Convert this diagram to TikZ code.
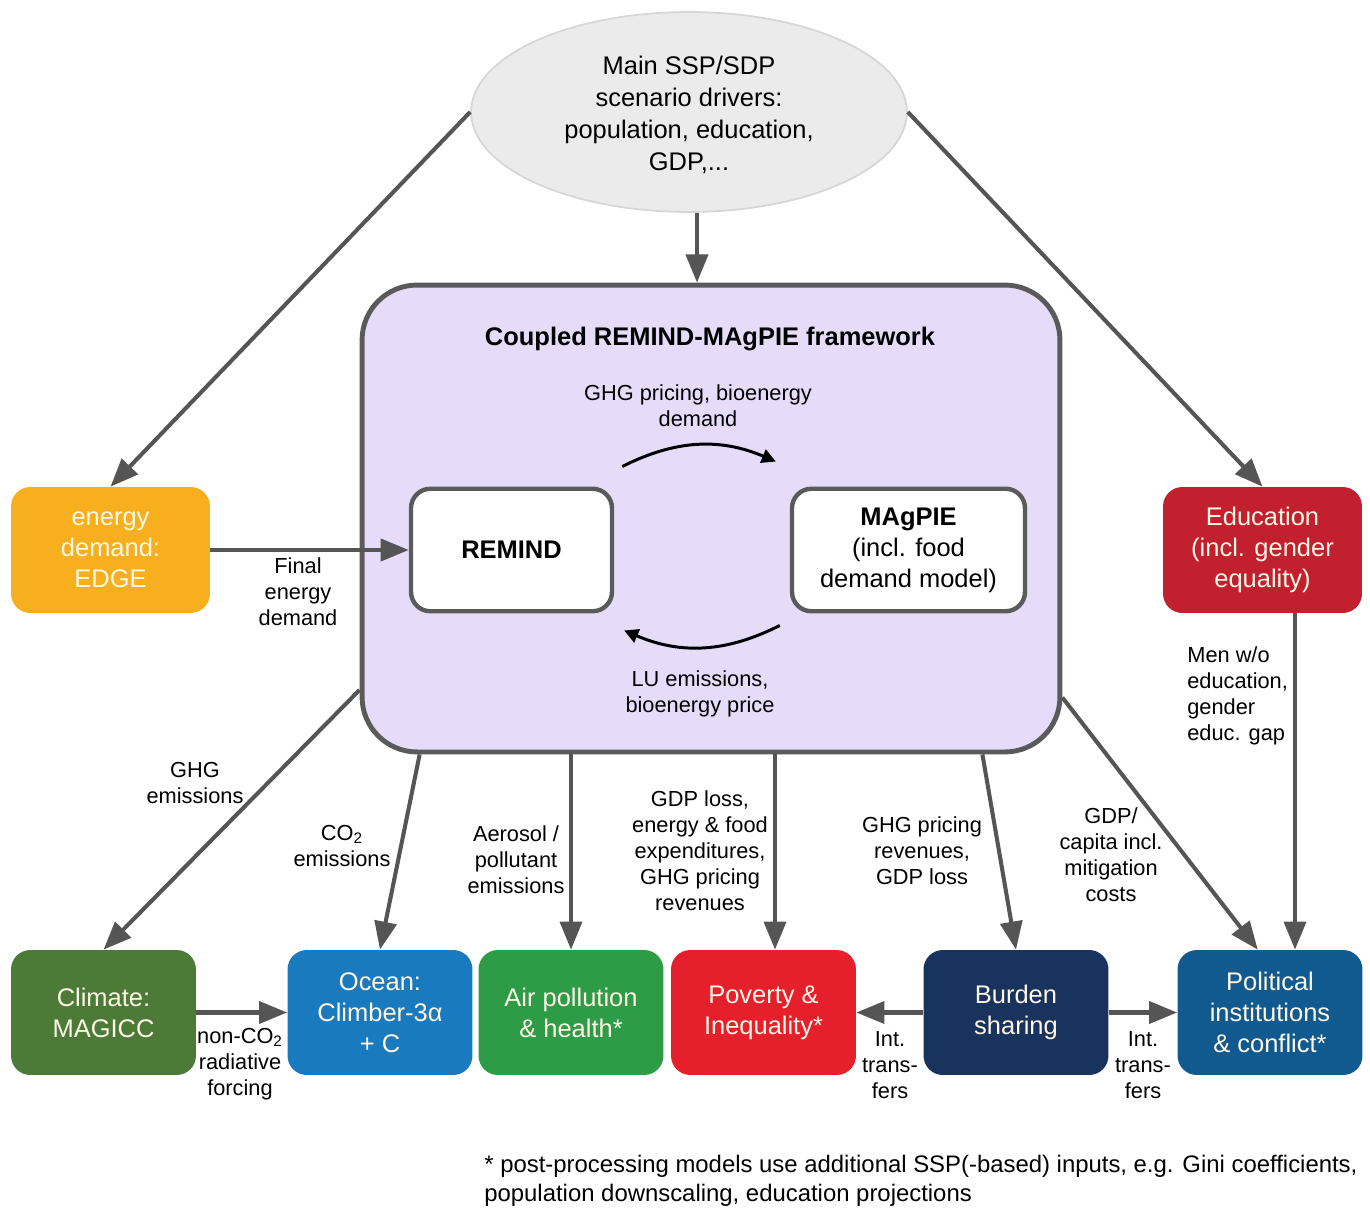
\documentclass[tikz,border=0pt]{standalone}
\usepackage{fontspec}
\setmainfont{Liberation Sans}
\usetikzlibrary{arrows.meta,shapes.geometric}

\definecolor{framefill}{HTML}{E6DCFA}
\definecolor{framedraw}{HTML}{5A5A5A}
\definecolor{arrowgray}{HTML}{555555}
\definecolor{drivergray}{HTML}{EBEBEB}
\definecolor{driverline}{HTML}{D6D6D6}
\definecolor{boxtext}{HTML}{FFF8E6}
\definecolor{edgeorange}{HTML}{F7AF1E}
\definecolor{educred}{HTML}{C3202F}
\definecolor{climategreen}{HTML}{4B7B36}
\definecolor{oceanblue}{HTML}{1A7ABF}
\definecolor{airgreen}{HTML}{2E9C47}
\definecolor{povertyred}{HTML}{E51F2B}
\definecolor{burdennavy}{HTML}{19335F}
\definecolor{politicalblue}{HTML}{115A8F}

\begin{document}
\begin{tikzpicture}[x=0.02cm, y=-0.02cm]
  \tikzset{
    model_box/.style={rectangle, rounded corners=11pt, minimum width=3.7cm, minimum height=2.5cm, align=center, text=boxtext, inner sep=2pt, font=\fontsize{14.5}{17.6}\selectfont},
    inner_box/.style={rectangle, rounded corners=11pt, draw=framedraw, line width=2.5pt, fill=white, minimum height=2.45cm, align=center, inner sep=2pt, font=\fontsize{14.5}{17.6}\selectfont},
    flow_arrow/.style={draw=arrowgray, line width=2.3pt, -{Triangle[length=16pt, width=12.5pt]}},
    loop_arrow/.style={draw=black, line width=1.7pt, -{Triangle[length=8pt, width=8pt]}},
    edge_label/.style={align=center, inner sep=0pt, font=\fontsize{12.4}{14.8}\selectfont}
  }

  % Marco de la figura
  \useasboundingbox (0,0) rectangle (1370,1210);

  % Elipse de escenarios
  \node[ellipse, fill=drivergray, draw=driverline, line width=1pt, minimum width=8.72cm, minimum height=4cm, align=center, font=\fontsize{14.5}{18.2}\selectfont] (drivers) at (689,112) {};
  \node[align=center, inner sep=0pt, font=\fontsize{14.5}{18.2}\selectfont] (drivers_text) at (689,115) {Main SSP/SDP\\scenario drivers:\\population, education,\\GDP,...};

  % Marco acoplado REMIND-MAgPIE
  \node[rectangle, rounded corners=1.1cm, fill=framefill, draw=framedraw, line width=2.8pt, minimum width=13.96cm, minimum height=9.34cm] (frame) at (711,518.5) {};
  \node[font=\bfseries\fontsize{14.5}{17.6}\selectfont] (frame_title) at (710,339) {Coupled REMIND-MAgPIE framework};
  \node[inner_box, minimum width=4.02cm] (remind) at (511.5,550) {\textbf{REMIND}};
  \node[inner_box, minimum width=4.66cm] (magpie) at (908.5,550) {\textbf{MAgPIE}\\(incl. food\\demand model)};

  % Modelos laterales
  \node[model_box, fill=edgeorange, minimum width=3.98cm, minimum height=2.52cm] (edge_model) at (110.5,550) {energy\\demand:\\EDGE};
  \node[model_box, fill=educred, minimum width=3.98cm, minimum height=2.52cm] (education) at (1262.5,550) {Education\\(incl. gender\\equality)};

  % Modelos de post-procesado (fila inferior)
  \node[model_box, fill=climategreen] (climate) at (103.5,1012.5) {Climate:\\MAGICC};
  \node[model_box, fill=oceanblue] (ocean) at (380,1012.5) {Ocean:\\Climber-3α\\+ C};
  \node[model_box, fill=airgreen] (air) at (571,1012.5) {Air pollution\\\& health*};
  \node[model_box, fill=povertyred] (poverty) at (763.5,1012.5) {Poverty \&\\Inequality*};
  \node[model_box, fill=burdennavy] (burden) at (1016,1012.5) {Burden\\sharing};
  \node[model_box, fill=politicalblue] (political) at (1270,1012.5) {Political\\institutions\\\& conflict*};

  % Flechas desde los escenarios
  \draw[flow_arrow] ([xshift=0.16cm]drivers.south) -- ([xshift=0.16cm]drivers.south |- frame.north);
  \draw[flow_arrow] (drivers.west) -- (edge_model.north);
  \draw[flow_arrow] (drivers.east) -- (education.north);
  \draw[flow_arrow] (edge_model.east) -- (remind.west);

  % Acoplamiento REMIND <-> MAgPIE
  \draw[loop_arrow] ([shift={(8,-20)}]remind.north east) to[bend left=25] ([shift={(-14,-25)}]magpie.north west);
  \draw[loop_arrow] ([shift={(-10,12)}]magpie.south west) to[bend left=25] ([shift={(10,17)}]remind.south east);

  % Flechas hacia la fila inferior
  \draw[flow_arrow] (frame.206) -- (climate.north);
  \draw[flow_arrow] (frame.-141.3) -- (ocean.north);
  \draw[flow_arrow] (air.north |- frame.south) -- (air.north);
  \draw[flow_arrow] ([xshift=0.23cm]poverty.north |- frame.south) -- ([xshift=0.23cm]poverty.north);
  \draw[flow_arrow] (frame.-41.8) -- (burden.north);
  \draw[flow_arrow] (frame.-27.5) -- (political.101);
  \draw[flow_arrow] ([xshift=0.65cm]education.south) -- ([xshift=0.65cm]education.south |- political.north);
  \draw[flow_arrow] (climate.east) -- (ocean.west);
  \draw[flow_arrow] (burden.west) -- (poverty.east);
  \draw[flow_arrow] (burden.east) -- (political.west);

  % Etiquetas de las flechas
  \node[edge_label] (final_lbl) at (298,592) {Final\\energy\\demand};
  \node[edge_label] (pricing_lbl) at (698,406) {GHG pricing, bioenergy\\demand};
  \node[edge_label] (lu_lbl) at (700,694) {LU emissions,\\bioenergy price};
  \node[edge_label] (ghg_lbl) at (195,783) {GHG\\emissions};
  \node[edge_label] (co2_lbl) at (342,846) {CO\textsubscript{2}\\emissions};
  \node[edge_label] (aerosol_lbl) at (516,860) {Aerosol /\\pollutant\\emissions};
  \node[edge_label] (gdp_lbl) at (700,851) {GDP loss,\\energy \& food\\expenditures,\\GHG pricing\\revenues};
  \node[edge_label] (revenue_lbl) at (922,851) {GHG pricing\\revenues,\\GDP loss};
  \node[edge_label] (capita_lbl) at (1111,855) {GDP/\\capita incl.\\mitigation\\costs};
  \node[edge_label, align=left, anchor=west] (men_lbl) at (1187,696) {Men w/o\\education,\\gender\\educ. gap};
  \node[edge_label] (forcing_lbl) at (240,1064) {non-CO\textsubscript{2}\\radiative\\forcing};
  \node[edge_label] (transfer_left_lbl) at (890,1065) {Int.\\trans-\\fers};
  \node[edge_label] (transfer_right_lbl) at (1143,1065) {Int.\\trans-\\fers};

  % Nota al pie
  \node[align=left, anchor=west, inner sep=0pt, font=\fontsize{13.6}{16.5}\selectfont] (footnote) at (484,1181) {* post-processing models use additional SSP(-based) inputs, e.g. Gini coefficients,\\population downscaling, education projections};
\end{tikzpicture}
\end{document}
